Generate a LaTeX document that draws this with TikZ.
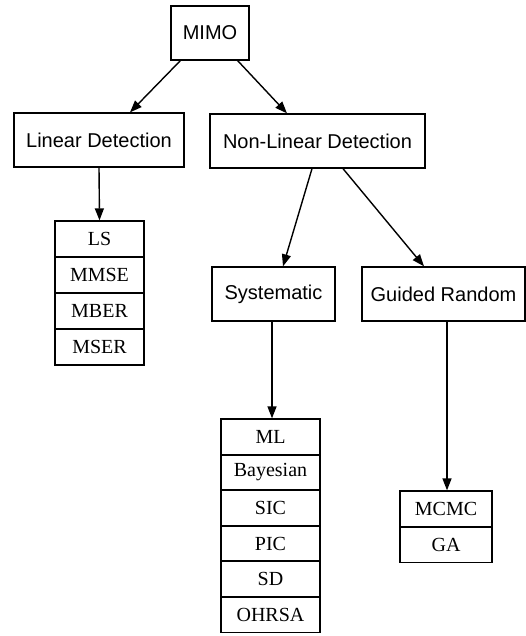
\documentclass[tikz,border=0pt]{standalone}
\usepackage{fontspec}
\setmainfont{Liberation Serif}
\newfontfamily\boxfont{Liberation Sans}
\usetikzlibrary{arrows.meta}
\tikzset{
  catbox/.style={draw, line width=1.3pt, inner sep=0pt, minimum height=54pt,
    font=\boxfont\fontsize{20}{23}\selectfont},
  item/.style={draw, line width=1.3pt, inner sep=0pt, minimum height=36pt,
    font=\fontsize{20}{23}\selectfont},
  link/.style={line width=1.4pt, -{Triangle[length=12pt,width=9pt]}}
}
\begin{document}
\begin{tikzpicture}[x=1pt,y=-1pt]
\useasboundingbox (0,0) rectangle (526,636);

% category boxes
\node[catbox, minimum width=78pt]  (mimo)   at (210,33)    {MIMO};
\node[catbox, minimum width=170pt] (lin)    at (99,140)    {Linear Detection};
\node[catbox, minimum width=215pt] (nonlin) at (317.5,141) {Non-Linear Detection};
\node[catbox, minimum width=123pt] (sys)    at (273.5,294) {Systematic};
\node[catbox, minimum width=163pt] (guided) at (443.5,294) {Guided Random};

% linear methods
\node[item, minimum width=89pt] (ls)   at (99.5,239) {LS};
\node[item, minimum width=89pt] (mmse) at (99.5,275) {MMSE};
\node[item, minimum width=89pt] (mber) at (99.5,311) {MBER};
\node[item, minimum width=89pt] (mser) at (99.5,347) {MSER};

% systematic methods
\node[item, minimum width=99pt] (ml)    at (270.5,437) {ML};
\node[item, minimum width=99pt] (bayes) at (270.5,472.5) {Bayesian};
\node[item, minimum width=99pt] (sic)   at (270.5,508) {SIC};
\node[item, minimum width=99pt] (pic)   at (270.5,543.5) {PIC};
\node[item, minimum width=99pt] (sd)    at (270.5,579) {SD};
\node[item, minimum width=99pt] (ohrsa) at (270.5,614.5) {OHRSA};

% guided random methods
\node[item, minimum width=92pt] (mcmc) at (446,509) {MCMC};
\node[item, minimum width=92pt] (ga)   at (446,544.5) {GA};

% connectors
\draw[link] (mimo.south west) ++(10,0) coordinate (m1) -- (lin.north -| 130,0);
\draw[link] (mimo.south east) ++(-12,0) coordinate (m2) -- (nonlin.north -| 287,0);
\draw[link] (lin.south) -- (ls.north);
\draw[link] (nonlin.south -| 312,0) -- (sys.north -| 283,0);
\draw[link] (nonlin.south -| 343,0) -- (guided.north -| 424,0);
\draw[link] (sys.south -| 272,0) -- (ml.north -| 272,0);
\draw[link] (guided.south -| 447,0) -- (mcmc.north -| 447,0);
\end{tikzpicture}
\end{document}
